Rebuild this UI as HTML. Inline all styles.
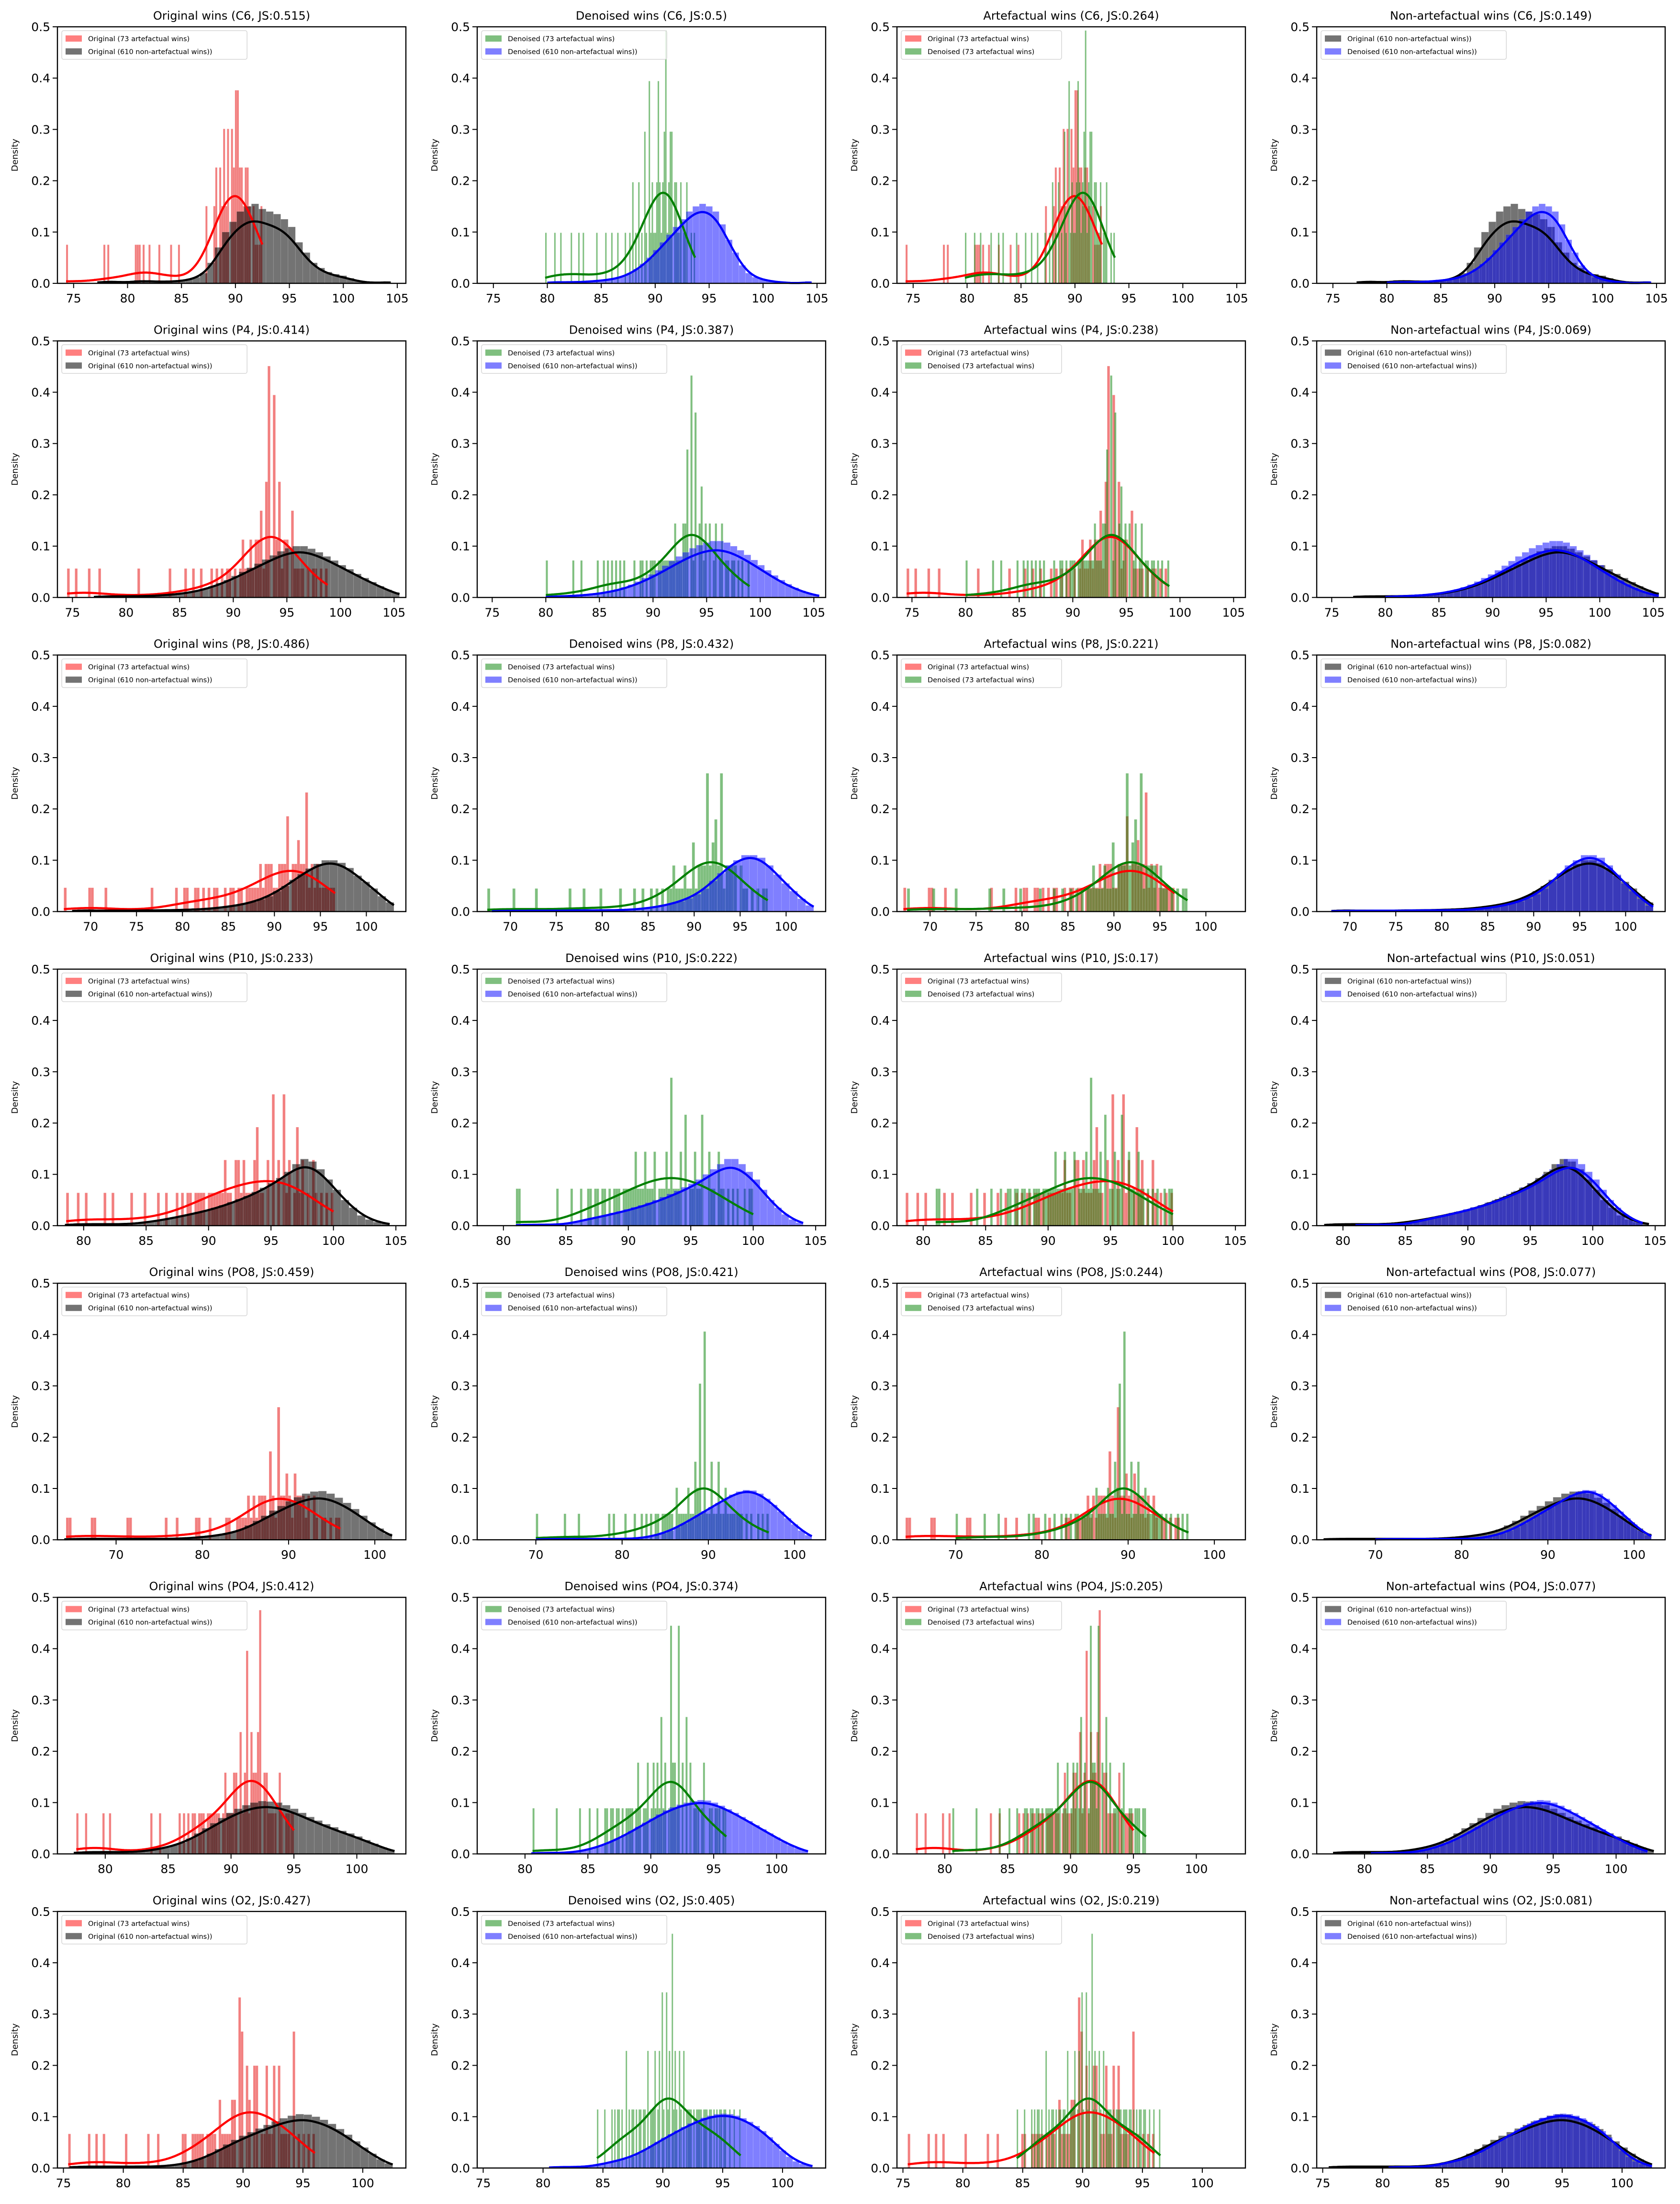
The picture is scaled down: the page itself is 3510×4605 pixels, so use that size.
<!DOCTYPE html>
<html><head><meta charset="utf-8">
<style>
html,body{margin:0;padding:0;background:#fff;}
svg text{font-family:"DejaVu Sans","Liberation Sans",sans-serif;}
</style></head>
<body>
<svg id="fig" xmlns="http://www.w3.org/2000/svg" width="3510" height="4600" viewBox="0 0 3510 4600"></svg>
<script>
// ---------- DATA ----------
const channels = ["C6","P4","P8","P10","PO8","PO4","O2"];
const jsOriginal = ["0.515","0.414","0.486","0.233","0.459","0.412","0.427"];
const jsDenoised = ["0.5","0.387","0.432","0.222","0.421","0.374","0.405"];
const jsArtefact = ["0.264","0.238","0.221","0.17","0.244","0.205","0.219"];
const jsNonArtefact = ["0.149","0.069","0.082","0.051","0.077","0.077","0.081"];
const xLimMin = [73.5,73.6,66.4,77.9,63.2,76.2,74.5];
const xLimMax = [105.8,106.1,104.3,105.8,103.6,103.9,103.6];
const xTickStep = [5,5,5,5,10,5,5];
const yTicks = [0,0.1,0.2,0.3,0.4,0.5];
const yTickLabels = ["0.0","0.1","0.2","0.3","0.4","0.5"];

// original artefactual (73) samples per row
const origArt = [
[74.3,77.9,78.3,80.7,81.0,81.2,81.4,82.1,82.9,84.0,84.8,87.3,87.3,88.0,88.1,88.3,88.3,88.3,88.5,88.5,88.7,88.7,88.9,89.0,89.0,89.0,89.2,89.2,89.4,89.4,89.4,89.6,89.6,89.6,89.6,89.8,89.8,89.8,90.0,90.0,90.0,90.0,90.0,90.2,90.2,90.2,90.2,90.2,90.4,90.4,90.4,90.6,90.6,90.6,90.8,90.8,91.0,91.0,91.2,91.2,91.2,91.4,91.4,91.6,91.6,91.8,92.0,92.2,92.4,92.5,88.6,89.3,90.9],
[74.5,75.4,76.5,77.6,81.3,84.2,85.6,86.4,87.1,87.9,88.5,89.0,89.4,89.8,90.2,90.6,90.9,91.2,91.5,91.7,91.9,92.2,92.4,92.6,92.6,92.6,92.8,93.0,93.0,93.0,93.3,93.3,93.4,93.4,93.4,93.4,93.4,93.4,93.7,93.7,93.9,93.9,93.9,93.9,93.9,94.1,94.1,94.4,94.4,94.4,94.6,94.9,94.9,95.1,95.4,95.4,95.7,96.0,96.3,96.6,97.0,97.4,97.8,98.3,98.8,90.8,91.6,92.0,92.3,93.2,94.2,95.0,95.6],
[67.1,69.8,70.1,71.8,76.7,79.2,80.2,80.5,81.3,81.6,82.3,82.9,83.4,83.8,84.6,85.2,85.6,86.4,86.9,87.3,87.9,88.4,88.8,89.1,89.1,89.5,89.8,89.8,90.2,90.5,90.5,90.9,91.2,91.2,91.5,91.5,91.5,91.5,91.9,92.2,92.2,92.5,92.5,92.5,92.8,93.1,93.1,93.5,93.5,93.5,93.5,93.5,93.8,94.1,94.1,94.4,94.7,94.7,95.0,95.3,95.6,95.9,96.2,96.6,86.1,87.6,88.1,88.6,89.3,90.0,90.7,92.0,93.0],
[78.6,79.5,80.1,81.6,82.3,83.9,84.9,86.0,86.6,87.4,88.0,88.6,89.2,89.7,90.1,90.5,90.9,91.3,91.3,91.7,92.1,92.1,92.5,92.9,92.9,93.3,93.7,93.7,94.0,94.0,94.0,94.4,94.8,94.8,95.2,95.2,95.2,95.2,95.6,95.6,96.0,96.0,96.0,96.0,96.4,96.4,96.8,97.1,97.1,97.1,97.5,97.5,97.9,98.3,98.3,98.7,99.1,99.5,100.0,88.3,89.0,89.5,90.3,90.7,91.1,91.5,92.3,92.7,93.1,93.5,94.2,96.2,97.3],
[64.2,64.7,67.2,67.6,71.2,71.7,75.8,77.0,79.2,79.6,80.8,82.7,83.0,84.4,85.0,85.5,85.9,86.3,86.7,87.0,87.4,87.9,87.9,87.9,87.9,88.3,88.8,88.8,88.8,88.8,88.8,89.2,89.5,89.5,89.9,89.9,90.2,90.6,90.6,91.0,91.3,91.7,91.7,92.1,92.5,92.9,93.3,93.8,94.3,94.8,95.4,96.0,84.1,84.7,85.3,85.7,86.1,86.5,86.9,87.2,87.6,88.1,88.5,89.0,89.3,89.7,90.0,90.4,90.8,91.1,91.5,92.3,93.0],
[77.7,78.5,79.8,80.3,83.6,84.3,85.9,86.6,87.1,87.6,88.1,88.5,88.9,89.3,89.6,89.9,90.2,90.5,90.5,90.8,90.8,91.1,91.1,91.3,91.3,91.3,91.3,91.6,91.6,91.6,91.8,91.8,92.1,92.1,92.3,92.3,92.3,92.3,92.3,92.6,92.9,92.9,93.2,93.5,93.8,94.1,94.4,94.8,95.0,86.3,86.9,87.4,87.9,88.3,88.7,89.1,89.5,89.8,90.0,90.3,90.7,91.0,91.2,91.5,91.9,92.0,92.2,92.4,92.7,93.0,93.4,93.9,94.6],
[75.4,77.2,77.7,78.3,80.3,82.0,83.0,85.0,85.2,85.7,86.2,86.7,87.3,87.7,88.1,88.5,88.8,89.1,89.4,89.7,89.7,89.7,89.7,89.7,90.0,90.0,90.0,90.3,90.3,90.3,90.6,90.9,90.9,91.2,91.2,91.2,91.5,91.9,91.9,91.9,92.3,92.7,92.7,93.0,93.0,93.0,93.4,93.8,94.2,94.2,94.2,94.2,94.6,95.0,95.5,96.0,86.0,86.5,87.0,87.5,88.0,88.3,88.7,89.0,89.3,89.9,90.5,91.0,91.7,92.1,92.5,93.2,93.6]
];
// denoised artefactual (73) samples per row
const denArt = [
[79.8,80.7,81.3,82.2,82.9,83.4,84.6,85.4,86.0,86.6,87.2,87.6,87.9,88.2,88.5,88.5,88.8,89.0,89.0,89.2,89.4,89.4,89.4,89.6,89.7,89.7,89.9,90.1,90.1,90.3,90.3,90.3,90.3,90.5,90.5,90.7,90.7,90.9,90.9,90.9,91.0,91.0,91.0,91.0,91.0,91.2,91.2,91.4,91.4,91.4,91.6,91.6,91.8,91.8,92.0,92.0,92.2,92.4,92.4,92.6,92.8,93.0,93.3,93.7,88.0,89.1,89.5,90.0,90.6,91.1,91.5,92.1,92.9],
[80.0,82.6,83.4,84.9,85.5,85.8,86.2,86.6,87.3,88.2,88.8,89.4,90.0,90.5,90.9,91.3,91.7,92.0,92.3,92.6,92.8,93.0,93.0,93.2,93.2,93.2,93.2,93.5,93.5,93.5,93.5,93.5,93.5,93.8,94.0,94.0,94.0,94.0,94.0,94.3,94.3,94.5,94.5,94.8,95.0,95.0,95.3,95.6,95.9,96.2,96.5,96.8,97.1,97.5,97.9,98.4,99.0,89.1,89.7,90.2,90.7,91.1,91.5,91.9,92.1,92.5,92.9,94.6,95.2,95.8,96.4,97.3,86.9],
[67.5,70.4,72.9,76.4,78.1,80.0,82.1,83.4,84.5,85.3,86.0,86.7,87.4,87.9,88.5,88.9,89.3,89.6,90.0,90.0,90.4,90.7,90.7,91.0,91.3,91.3,91.3,91.3,91.3,91.3,91.6,91.9,91.9,92.3,92.3,92.3,92.3,92.6,92.9,92.9,92.9,92.9,92.9,93.3,93.6,93.6,93.9,94.2,94.2,94.6,95.0,95.4,95.8,96.3,96.8,97.4,98.0,87.1,87.7,88.2,88.7,89.1,89.9,90.2,90.5,91.1,91.7,92.1,92.7,93.1,93.8,94.4,95.2],
[81.0,81.2,84.4,85.5,86.3,87.0,87.6,88.2,88.8,89.3,89.8,90.2,90.6,90.6,91.0,91.4,91.4,91.8,92.2,92.2,92.6,93.0,93.0,93.4,93.4,93.4,93.4,93.8,94.2,94.2,94.5,94.5,94.5,94.9,95.3,95.3,95.7,96.0,96.0,96.0,96.4,96.4,96.8,97.2,97.2,97.6,98.0,98.4,98.8,99.3,99.7,100.0,86.8,87.3,88.0,88.5,89.1,89.6,90.0,90.4,90.8,91.2,91.6,92.0,92.4,92.8,93.2,93.6,94.0,95.1,95.5,96.6,97.4],
[70.0,73.4,75.0,78.4,79.0,80.5,81.5,82.4,83.3,84.2,84.9,85.6,86.2,86.7,87.2,87.6,88.0,88.4,88.4,88.8,88.8,89.1,89.1,89.1,89.1,89.1,89.1,89.5,89.5,89.5,89.5,89.5,89.5,89.5,89.9,90.3,90.3,90.7,91.1,91.1,91.5,91.9,92.3,92.8,93.3,93.8,94.4,95.0,95.7,96.3,97.0,82.8,83.8,84.6,85.2,85.9,86.4,86.9,87.4,87.8,88.2,88.6,89.3,89.7,90.1,90.5,90.9,91.3,91.7,92.1,92.5,93.0,93.6],
[80.6,82.5,84.3,85.2,85.8,86.3,86.8,87.3,87.8,88.2,88.6,89.0,89.0,89.4,89.8,89.8,90.2,90.2,90.6,90.6,90.9,90.9,90.9,91.2,91.2,91.6,91.6,91.6,91.6,91.6,91.9,91.9,92.2,92.2,92.2,92.2,92.5,92.8,92.8,93.1,93.4,93.7,94.0,94.3,94.7,95.1,95.5,96.0,86.5,87.0,87.5,88.0,88.4,88.8,89.2,89.6,90.0,90.4,90.7,91.0,91.4,91.7,91.8,92.0,92.3,92.6,92.9,93.2,93.6,94.2,94.9,95.3,95.8],
[84.5,85.2,85.7,86.2,86.6,87.0,87.4,87.8,88.2,88.5,88.8,89.1,89.4,89.4,89.7,89.7,90.0,90.0,90.3,90.3,90.3,90.5,90.8,90.8,90.8,90.8,91.1,91.1,91.4,91.4,91.7,92.0,92.3,92.6,92.9,93.2,93.5,93.9,94.3,94.7,95.1,95.6,96.0,96.5,86.0,86.4,86.9,87.2,87.6,88.0,88.4,88.7,89.0,89.2,89.6,89.9,90.1,90.4,90.6,90.9,91.2,91.5,91.8,92.1,92.4,92.8,93.1,93.4,93.7,94.1,94.5,94.9,95.3]
];
// original non-artefactual (610): range and 40-bin densities
const origNonStart = [77.2,77.0,68.0,78.5,64.0,77.5,75.5];
const origNonEnd = [104.4,105.5,103.0,104.5,102.0,103.0,102.5];
const origNonDens = [
[.004,.004,.004,.002,.002,.006,.006,.004,.004,.004,.004,.006,.008,.012,.02,.04,.07,.1,.12,.14,.15,.155,.145,.14,.135,.125,.11,.08,.06,.04,.03,.022,.018,.015,.01,.005,.002,.001,.001,.004],
[.002,.003,.002,.002,.003,.002,.003,.003,.004,.005,.006,.008,.01,.013,.017,.022,.028,.034,.042,.05,.058,.066,.074,.082,.09,.096,.1,.1,.095,.088,.08,.072,.063,.055,.046,.038,.03,.022,.015,.01],
[.002,.003,.002,.001,.002,.002,.001,.002,.002,.002,.003,.002,.003,.003,.004,.004,.005,.006,.008,.01,.012,.015,.019,.024,.03,.04,.05,.062,.073,.084,.093,.1,.1,.095,.085,.07,.058,.045,.03,.018],
[.003,.003,.003,.003,.003,.003,.003,.003,.003,.006,.008,.01,.013,.016,.02,.023,.027,.03,.035,.04,.046,.052,.058,.066,.074,.083,.093,.105,.12,.13,.125,.11,.09,.07,.05,.035,.02,.012,.007,.004],
[.002,.002,.002,.002,.002,.002,.002,.002,.002,.002,.002,.002,.002,.002,.003,.004,.005,.007,.009,.012,.015,.02,.028,.037,.047,.057,.066,.075,.083,.09,.094,.095,.09,.082,.072,.06,.047,.034,.022,.012],
[.004,.004,.004,.004,.004,.004,.004,.003,.005,.007,.01,.013,.017,.022,.03,.04,.05,.06,.07,.08,.088,.095,.1,.103,.102,.1,.095,.088,.08,.072,.065,.058,.052,.045,.04,.034,.027,.02,.013,.008],
[.003,.003,.003,.003,.003,.003,.003,.003,.003,.003,.003,.003,.005,.007,.01,.014,.02,.028,.037,.046,.055,.063,.07,.077,.084,.091,.097,.102,.105,.104,.1,.094,.086,.076,.065,.052,.04,.028,.017,.009]
];
// denoised non-artefactual (610): range and 40-bin densities
const denNonStart = [80.0,80.0,68.0,81.0,70.0,80.5,80.5];
const denNonEnd = [104.5,105.5,103.0,104.0,102.0,102.5,102.5];
const denNonDens = [
[.003,.002,.002,.003,.002,.003,.004,.005,.006,.008,.01,.014,.02,.028,.038,.05,.065,.08,.095,.11,.125,.14,.15,.155,.15,.14,.115,.085,.06,.035,.02,.012,.008,.005,.003,.002,.001,0,0,.004],
[.002,.002,.003,.003,.004,.005,.006,.008,.01,.013,.016,.02,.025,.031,.038,.045,.053,.062,.071,.08,.088,.096,.102,.107,.11,.11,.107,.1,.092,.083,.073,.063,.053,.043,.034,.026,.019,.013,.008,.005],
[.001,.002,.001,.002,.001,.002,.002,.001,.002,.002,.002,.003,.002,.003,.002,.003,.003,.004,.005,.007,.009,.012,.016,.02,.026,.034,.045,.06,.075,.09,.1,.11,.11,.105,.09,.072,.055,.04,.025,.012],
[.002,.002,.002,.002,.002,.002,.002,.004,.008,.012,.015,.018,.021,.025,.028,.032,.036,.04,.045,.05,.056,.062,.068,.075,.082,.09,.1,.11,.12,.13,.13,.12,.105,.09,.07,.05,.035,.022,.012,.006],
[.001,.002,.001,.002,.001,.002,.002,.001,.002,.002,.001,.002,.002,.002,.002,.004,.006,.009,.013,.018,.025,.032,.04,.048,.056,.064,.072,.08,.088,.094,.097,.096,.09,.08,.068,.055,.042,.03,.018,.009],
[.002,.002,.002,.002,.002,.002,.004,.006,.009,.013,.018,.024,.03,.037,.045,.053,.061,.069,.077,.085,.091,.096,.1,.103,.105,.104,.1,.094,.087,.08,.072,.064,.056,.048,.04,.032,.024,.017,.011,.007],
[.002,.002,.002,.002,.002,.002,.004,.006,.009,.012,.015,.018,.022,.028,.035,.043,.051,.059,.066,.073,.08,.087,.093,.098,.102,.105,.106,.105,.102,.097,.09,.082,.072,.06,.047,.034,.022,.013,.008,.005]
];

// ---------- LAYOUT ----------
const NS = "http://www.w3.org/2000/svg";
const svg = document.getElementById("fig");
const colLeft = [120, 997, 1874, 2751];
const axW = 728, axH = 536, rowTop0 = 56, rowGap = 656.3;
const COL = {
  red: {fill:"rgba(230,0,0,0.5)", line:"#ff0000", patch:"#ff7f7f"},
  black: {fill:"rgba(0,0,0,0.55)", line:"#000000", patch:"#737373"},
  green: {fill:"rgba(0,128,0,0.5)", line:"#008000", patch:"#7fbf7f"},
  blue: {fill:"rgba(0,0,255,0.5)", line:"#0000ff", patch:"#7f7fff"}
};

function mk(tag, attrs, parent){
  const e = document.createElementNS(NS, tag);
  for (const k in attrs) e.setAttribute(k, attrs[k]);
  (parent||svg).appendChild(e);
  return e;
}
function gaussKDE(xs, ws, bw, lo, hi){
  const pts = [];
  const tot = ws.reduce((a,b)=>a+b,0);
  for (let i=0;i<=200;i++){
    const x = lo + (hi-lo)*i/200;
    let s = 0;
    for (let j=0;j<xs.length;j++){ const u=(x-xs[j])/bw; s += ws[j]*Math.exp(-0.5*u*u); }
    pts.push([x, s/(tot*bw*Math.sqrt(2*Math.PI))]);
  }
  return pts;
}
function sampleSeries(vals){
  const lo = Math.min(...vals), hi = Math.max(...vals), n = vals.length;
  const nb = 100, w = (hi-lo)/nb;
  const counts = new Array(nb).fill(0);
  vals.forEach(v=>{ let k=Math.floor((v-lo)/w); if(k>=nb)k=nb-1; counts[k]++; });
  const bars = counts.map((c,i)=>({x0:lo+i*w, x1:lo+(i+1)*w, h:c/(n*w)}));
  const mean = vals.reduce((a,b)=>a+b,0)/n;
  const sd = Math.sqrt(vals.reduce((a,b)=>a+(b-mean)*(b-mean),0)/(n-1));
  const bw = sd*Math.pow(n,-0.2);
  const kde = gaussKDE(vals, vals.map(()=>1), bw, lo, hi);
  return {bars, kde};
}
function binnedSeries(start, end, dens){
  const nb = dens.length, w = (end-start)/nb;
  const bars = dens.map((d,i)=>({x0:start+i*w, x1:start+(i+1)*w, h:d}));
  const xs = dens.map((d,i)=>start+(i+0.5)*w);
  const ws = dens.map(d=>d*w);
  const tot = ws.reduce((a,b)=>a+b,0);
  const mean = xs.reduce((a,x,i)=>a+x*ws[i],0)/tot;
  const sd = Math.sqrt(xs.reduce((a,x,i)=>a+(x-mean)*(x-mean)*ws[i],0)/tot);
  const bw = sd*Math.pow(610,-0.2)*0.8;
  const kde = gaussKDE(xs, ws, bw, start, end);
  return {bars, kde};
}

function drawPanel(r, c){
  const L = colLeft[c], T = rowTop0 + rowGap*r;
  const xmin = xLimMin[r], xmax = xLimMax[r];
  const sx = v => L + (v-xmin)/(xmax-xmin)*axW;
  const sy = v => T + axH - v/0.5*axH;
  const g = mk("g", {});
  
  

  const oa = sampleSeries(origArt[r]);
  const da = sampleSeries(denArt[r]);
  const on = binnedSeries(origNonStart[r], origNonEnd[r], origNonDens[r]);
  const dn = binnedSeries(denNonStart[r], denNonEnd[r], denNonDens[r]);
  let series, titlePre, js, legend;
  if (c===0){ series=[[oa,"red","original-artefactual"],[on,"black","original-non-artefactual"]]; titlePre="Original wins"; js=jsOriginal[r];
    legend=[["red","Original (73 artefactual wins)"],["black","Original (610 non-artefactual wins))"]]; }
  else if (c===1){ series=[[da,"green","denoised-artefactual"],[dn,"blue","denoised-non-artefactual"]]; titlePre="Denoised wins"; js=jsDenoised[r];
    legend=[["green","Denoised (73 artefactual wins)"],["blue","Denoised (610 non-artefactual wins))"]]; }
  else if (c===2){ series=[[oa,"red","original-artefactual"],[da,"green","denoised-artefactual"]]; titlePre="Artefactual wins"; js=jsArtefact[r];
    legend=[["red","Original (73 artefactual wins)"],["green","Denoised (73 artefactual wins)"]]; }
  else { series=[[on,"black","original-non-artefactual"],[dn,"blue","denoised-non-artefactual"]]; titlePre="Non-artefactual wins"; js=jsNonArtefact[r];
    legend=[["black","Original (610 non-artefactual wins))"],["blue","Denoised (610 non-artefactual wins))"]]; }

  series.forEach(([s,col,nm])=>{
    const bg = mk("g", {}, g);
    
    
    s.bars.forEach(b=>{
      if (b.h<=0) return;
      const y = sy(Math.min(b.h,0.5));
      const rc = mk("rect", {x:sx(b.x0), y:y, width:Math.max(0.5,sx(b.x1)-sx(b.x0)), height:sy(0)-y, fill:COL[col].fill, stroke:"rgba(255,255,255,0.25)", "stroke-width":0.6}, bg);
      
      
    });
  });
  series.forEach(([s,col,nm])=>{
    const d = s.kde.map((p,i)=>(i?"L":"M")+sx(p[0]).toFixed(1)+" "+sy(p[1]).toFixed(1)).join(" ");
    const pth = mk("path", {d:d, fill:"none", stroke:COL[col].line, "stroke-width":4.5, "stroke-linejoin":"round"}, g);
    
    
  });
  const fr = mk("rect", {x:L, y:T, width:axW, height:axH, fill:"none", stroke:"#000", "stroke-width":2.4}, g);
  
  
  yTicks.forEach((v,i)=>{
    const y = sy(v);
    mk("line", {x1:L-10, y1:y, x2:L, y2:y, stroke:"#000", "stroke-width":2}, g);
    const t = mk("text", {x:L-15, y:y+9, "text-anchor":"end", "font-size":25, fill:"#000"}, g);
    t.textContent = yTickLabels[i];
    
    
  });
  const st = xTickStep[r];
  for (let v=Math.ceil(xmin/st)*st; v<=xmax+1e-9; v+=st){
    const x = sx(v);
    mk("line", {x1:x, y1:T+axH, x2:x, y2:T+axH+10, stroke:"#000", "stroke-width":2}, g);
    const t = mk("text", {x:x, y:T+axH+40, "text-anchor":"middle", "font-size":25, fill:"#000"}, g);
    t.textContent = String(v);
    
    
  }
  const yl = mk("text", {x:0, y:0, "text-anchor":"middle", "font-size":18, fill:"#000", transform:`translate(${L-83},${T+axH/2}) rotate(-90)`}, g);
  yl.textContent = "Density";
  
  
  const tt = mk("text", {x:L+axW/2, y:T-15, "text-anchor":"middle", "font-size":24, fill:"#000"}, g);
  tt.textContent = `${titlePre} (${channels[r]}, JS:${js})`;
  
  
  const lg = mk("g", {}, g);
  
  
  const maxLen = Math.max(...legend.map(l=>l[1].length));
  const lw = 64 + maxLen*8.7 + 10;
  mk("rect", {x:L+9, y:T+8, width:lw, height:60, rx:4, fill:"rgba(255,255,255,0.8)", stroke:"#d6d6d6", "stroke-width":1.5}, lg);
  legend.forEach((le,i)=>{
    const cy = T+25+i*27;
    const p = mk("rect", {x:L+17, y:cy-7, width:34, height:13, fill:COL[le[0]].patch}, lg);
    
    
    const t = mk("text", {x:L+64, y:cy+5, "font-size":14.5, fill:"#000"}, lg);
    t.textContent = le[1];
    
    
  });
}
for (let r=0;r<7;r++) for (let c=0;c<4;c++) drawPanel(r,c);
</script>
</body></html>
